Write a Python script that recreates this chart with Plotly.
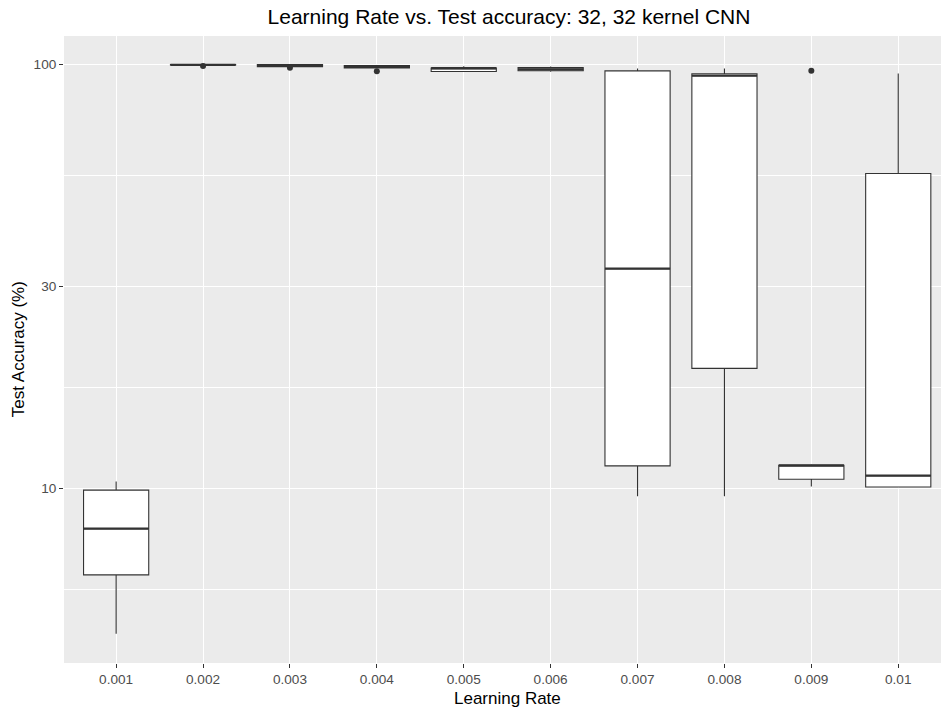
import plotly.graph_objects as go

# ---- data ----
learning_rates = ["0.001", "0.002", "0.003", "0.004", "0.005",
                  "0.006", "0.007", "0.008", "0.009", "0.01"]
upper_whisker = [10.4, 99.9, 99.9, 99.4, 98.9, 98.8, 97.7, 97.7, 11.4, 95.1]
q3_values     = [9.92, 99.85, 99.8, 99.3, 98.0, 98.2, 96.5, 95.0, 11.35, 55.3]
median_values = [8.05, 99.7, 99.3, 98.7, 97.9, 97.3, 33.0, 94.0, 11.35, 10.73]
q1_values     = [6.26, 99.6, 98.7, 98.1, 96.2, 96.6, 11.31, 19.2, 10.52, 10.09]
lower_whisker = [4.55, 99.5, 98.5, 97.8, 96.0, 96.0, 9.59, 9.59, 10.12, 10.09]

outlier_lr = ["0.002", "0.003", "0.004", "0.009"]
outlier_values = [99.1, 98.2, 96.3, 96.6]

y_tick_values = [10, 30, 100]
y_minor_values = [5.773, 17.32, 54.77]

title_text = "Learning Rate vs. Test accuracy: 32, 32 kernel CNN"
x_title = "Learning Rate"
y_title = "Test Accuracy (%)"

# ---- figure ----
FONT = "Liberation Sans, Arial, sans-serif"
pos = {lr: i for i, lr in enumerate(learning_rates)}
xpos = [pos[lr] for lr in learning_rates]
BOX_W = 0.75

fig = go.Figure()
fig.add_trace(go.Box(
    x=xpos, q1=q1_values, median=median_values, q3=q3_values,
    lowerfence=lower_whisker, upperfence=upper_whisker,
    width=BOX_W, fillcolor="white", whiskerwidth=0,
    line=dict(color="#333333", width=1.1), boxpoints=False,
    showlegend=False, hoverinfo="skip",
))

# thicker median lines (ggplot style)
mx, my = [], []
for i, m in zip(xpos, median_values):
    mx += [i - BOX_W / 2, i + BOX_W / 2, None]
    my += [m, m, None]
fig.add_trace(go.Scatter(x=mx, y=my, mode="lines",
                         line=dict(color="#333333", width=2.2),
                         showlegend=False, hoverinfo="skip"))

fig.add_trace(go.Scatter(
    x=[pos[lr] for lr in outlier_lr], y=outlier_values, mode="markers",
    marker=dict(color="#333333", size=6), showlegend=False, hoverinfo="skip"))

fig.update_layout(
    width=941, height=711,
    margin=dict(l=64, r=0, t=36, b=48),
    paper_bgcolor="white", plot_bgcolor="#EBEBEB",
    font=dict(family=FONT, color="#4D4D4D"),
    title=dict(text=title_text, x=509 / 941, xref="container", xanchor="center",
               y=1 - 17 / 711, yref="container", yanchor="middle",
               font=dict(size=21, color="black", family=FONT)),
    annotations=[
        dict(text=x_title, xref="paper", yref="paper", x=0.5054, y=-0.0574,
             xanchor="center", yanchor="middle", showarrow=False,
             font=dict(size=17, color="black", family=FONT)),
        dict(text=y_title, xref="paper", yref="paper", x=-0.0517, y=0.5,
             xanchor="center", yanchor="middle", showarrow=False, textangle=-90,
             font=dict(size=17, color="black", family=FONT)),
    ],
)
fig.update_xaxes(
    range=[-0.6, 9.492], tickmode="array", tickvals=xpos, ticktext=learning_rates,
    showgrid=True, gridcolor="white", gridwidth=1.2, zeroline=False,
    ticks="outside", ticklen=4, tickwidth=1, tickcolor="#333333",
    tickfont=dict(size=13.6, color="#4D4D4D"), showline=False,
)
fig.update_yaxes(
    type="log", range=[0.589, 2.0667], tickmode="array", tickvals=y_tick_values,
    ticktext=[str(v) for v in y_tick_values],
    showgrid=True, gridcolor="white", gridwidth=1.2, zeroline=False,
    ticks="outside", ticklen=4, tickwidth=1, tickcolor="#333333",
    tickfont=dict(size=13.6, color="#4D4D4D"), showline=False,
    minor=dict(tickmode="array", tickvals=y_minor_values, showgrid=True,
               gridcolor="white", gridwidth=0.7, ticks=""),
)

fig.write_html("out.html")
